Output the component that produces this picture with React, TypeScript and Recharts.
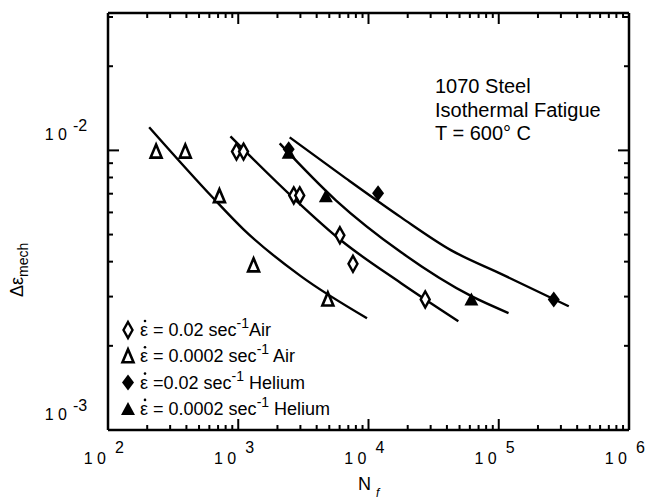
import React from 'react';
import { ComposedChart, Line, Scatter, XAxis, YAxis } from 'recharts';

// cycles to failure vs mechanical strain range, log-log
const xMajor = [1e2, 1e3, 1e4, 1e5, 1e6];
const yMajor = [1e-3, 1e-2];
const minorSteps = [2, 3, 4, 5, 6, 7, 8, 9];
const xDomain = [1e2, 1e6];
const yDomain = [1e-3, 0.031];

const xExp = ['2', '3', '4', '5', '6'];
const yExp = ['-3', '-2'];

// test points
const airFast = [
  { x: 969, y: 0.0099 },
  { x: 1098, y: 0.0099 },
  { x: 2667, y: 0.0069 },
  { x: 2965, y: 0.0069 },
  { x: 6030, y: 0.00497 },
  { x: 7600, y: 0.00393 },
  { x: 27250, y: 0.00293 },
];
const airSlow = [
  { x: 234, y: 0.0099 },
  { x: 392, y: 0.0099 },
  { x: 717, y: 0.00686 },
  { x: 1311, y: 0.00388 },
  { x: 4875, y: 0.00293 },
];
const heliumFast = [
  { x: 2440, y: 0.0101 },
  { x: 11840, y: 0.00702 },
  { x: 264300, y: 0.00293 },
];
const heliumSlow = [
  { x: 2440, y: 0.0098 },
  { x: 4705, y: 0.00685 },
  { x: 61660, y: 0.00293 },
];

// fitted life curves
const fitAirSlow = [
  { x: 207, y: 0.0121 },
  { x: 645, y: 0.00674 },
  { x: 1097, y: 0.00522 },
  { x: 3019, y: 0.00355 },
  { x: 9737, y: 0.00251 },
];
const fitAirFast = [
  { x: 871, y: 0.01122 },
  { x: 2667, y: 0.00674 },
  { x: 6138, y: 0.00477 },
  { x: 17800, y: 0.00335 },
  { x: 48950, y: 0.00245 },
];
const fitHeliumSlow = [
  { x: 2080, y: 0.01059 },
  { x: 5617, y: 0.00663 },
  { x: 17800, y: 0.00432 },
  { x: 61660, y: 0.00301 },
  { x: 118900, y: 0.00262 },
];
const fitHeliumFast = [
  { x: 2483, y: 0.01113 },
  { x: 6709, y: 0.00794 },
  { x: 17800, y: 0.00576 },
  { x: 43240, y: 0.00439 },
  { x: 105000, y: 0.00361 },
  { x: 345000, y: 0.00277 },
];

const legendRows = [
  { marker: 'openDiamond', rate: '= 0.02 sec', gas: 'Air' },
  { marker: 'openTriangle', rate: '= 0.0002 sec', gas: ' Air' },
  { marker: 'filledDiamond', rate: '=0.02 sec', gas: ' Helium' },
  { marker: 'filledTriangle', rate: '= 0.0002 sec', gas: ' Helium' },
];

const FONT = '"Liberation Sans", Arial, Helvetica, sans-serif';

const withMinors = (majors: number[], lo: number, hi: number) => {
  const out: number[] = [];
  majors.forEach((m) => {
    out.push(m);
    minorSteps.forEach((s) => out.push(m * s));
  });
  return out.filter((v) => v >= lo * 0.999 && v <= hi * 1.001);
};
const xTicks = withMinors(xMajor, xDomain[0], xDomain[1]);
const yTicks = withMinors(yMajor, yDomain[0], yDomain[1]);

const isMajor = (v: number) => Math.abs(Math.log10(v) - Math.round(Math.log10(v))) < 1e-6;

// inward tick marks on every side, power-of-ten labels on bottom and left
const AxisTick = (props: any) => {
  const { x, y, payload, side } = props;
  const v = payload.value;
  const major = isMajor(v);
  const len = major ? 11 : 5;
  let line;
  if (side === 'bottom') line = <line x1={x} y1={y} x2={x} y2={y - len} />;
  else if (side === 'top') line = <line x1={x} y1={y} x2={x} y2={y + len} />;
  else if (side === 'left') line = <line x1={x} y1={y} x2={x + len} y2={y} />;
  else line = <line x1={x} y1={y} x2={x - len} y2={y} />;
  let label = null;
  if (major && side === 'bottom') {
    const i = xMajor.findIndex((m) => Math.abs(m - v) / m < 1e-6);
    label = (
      <g fontFamily={FONT} fontSize={16} fill="#000" stroke="none">
        <text x={x - 2} y={y + 34} textAnchor="end">1 0</text>
        <text x={x + 7} y={y + 23} textAnchor="start">{xExp[i]}</text>
      </g>
    );
  }
  if (major && side === 'left') {
    const i = yMajor.findIndex((m) => Math.abs(m - v) / m < 1e-6);
    label = (
      <g fontFamily={FONT} fontSize={16} fill="#000" stroke="none">
        <text x={x - 41} y={y - 10} textAnchor="end">1 0</text>
        <text x={x - 35} y={y - 19} textAnchor="start">{yExp[i]}</text>
      </g>
    );
  }
  return (
    <g stroke="#000" strokeWidth={2}>
      {line}
      {label}
    </g>
  );
};

const Marker = ({ kind, cx, cy }: { kind: string; cx: number; cy: number }) => {
  if (kind === 'openDiamond')
    return (
      <path
        d={`M${cx},${cy - 8} L${cx + 4.5},${cy} L${cx},${cy + 8} L${cx - 4.5},${cy} Z`}
        fill="#fff"
        stroke="#000"
        strokeWidth={2.4}
      />
    );
  if (kind === 'openTriangle')
    return (
      <path
        d={`M${cx},${cy - 7} L${cx + 5.5},${cy + 6} L${cx - 5.5},${cy + 6} Z`}
        fill="#fff"
        stroke="#000"
        strokeWidth={2.6}
        strokeLinejoin="miter"
      />
    );
  if (kind === 'filledDiamond')
    return <path d={`M${cx},${cy - 8} L${cx + 6},${cy} L${cx},${cy + 8} L${cx - 6},${cy} Z`} fill="#000" />;
  return <path d={`M${cx},${cy - 7} L${cx + 7},${cy + 6} L${cx - 7},${cy + 6} Z`} fill="#000" />;
};

const shapeOf = (kind: string) => (p: any) => <Marker kind={kind} cx={p.cx} cy={p.cy} />;

const axisLine = { stroke: '#000', strokeWidth: 2.5 };

export default function App() {
  const W = 645;
  const H = 502;
  return (
    <div style={{ position: 'relative', width: W, height: H, background: '#fff' }}>
      <style>{`body{margin:0}`}</style>
      <ComposedChart width={W} height={H} margin={{ top: 12, right: 15, bottom: 0, left: 0 }}>
        <XAxis
          dataKey="x"
          type="number"
          scale="log"
          domain={xDomain}
          allowDataOverflow
          ticks={xTicks}
          interval={0}
          tickLine={false}
          tickSize={0}
          tickMargin={0}
          height={72}
          axisLine={axisLine}
          tick={<AxisTick side="bottom" />}
        />
        <XAxis
          xAxisId="top"
          dataKey="x"
          orientation="top"
          type="number"
          scale="log"
          domain={xDomain}
          allowDataOverflow
          ticks={xTicks}
          interval={0}
          tickLine={false}
          tickSize={0}
          tickMargin={0}
          height={1}
          axisLine={axisLine}
          tick={<AxisTick side="top" />}
        />
        <YAxis
          type="number"
          scale="log"
          domain={yDomain}
          allowDataOverflow
          ticks={yTicks}
          interval={0}
          tickLine={false}
          tickSize={0}
          tickMargin={0}
          width={108}
          axisLine={axisLine}
          tick={<AxisTick side="left" />}
        />
        <YAxis
          yAxisId="right"
          orientation="right"
          type="number"
          scale="log"
          domain={yDomain}
          allowDataOverflow
          ticks={yTicks}
          interval={0}
          tickLine={false}
          tickSize={0}
          tickMargin={0}
          width={1}
          axisLine={axisLine}
          tick={<AxisTick side="right" />}
        />
        {/* carries the top and right frame axes */}
        <Line
          xAxisId="top"
          yAxisId="right"
          data={fitAirSlow}
          dataKey="y"
          stroke="none"
          dot={false}
          activeDot={false}
          legendType="none"
          isAnimationActive={false}
        />
        {[fitAirSlow, fitAirFast, fitHeliumSlow, fitHeliumFast].map((d, i) => (
          <Line
            key={i}
            data={d}
            dataKey="y"
            type="monotone"
            stroke="#000"
            strokeWidth={2.4}
            dot={false}
            activeDot={false}
            isAnimationActive={false}
          />
        ))}
        <Scatter data={airSlow} dataKey="y" shape={shapeOf('openTriangle')} isAnimationActive={false} />
        <Scatter data={airFast} dataKey="y" shape={shapeOf('openDiamond')} isAnimationActive={false} />
        <Scatter data={heliumFast} dataKey="y" shape={shapeOf('filledDiamond')} isAnimationActive={false} />
        <Scatter data={heliumSlow} dataKey="y" shape={shapeOf('filledTriangle')} isAnimationActive={false} />
      </ComposedChart>

      <svg
        width={W}
        height={H}
        style={{ position: 'absolute', left: 0, top: 0, pointerEvents: 'none' }}
        fontFamily={FONT}
      >
        <g fontSize={20} fill="#000">
          <text x={435} y={93}>1070 Steel</text>
          <text x={435} y={117}>Isothermal Fatigue</text>
          <text x={435} y={140}>T = 600° C</text>
        </g>

        {legendRows.map((r, i) => {
          const base = 336 + i * 26.3;
          return (
            <g key={i} fontSize={18} fill="#000">
              <Marker kind={r.marker} cx={128} cy={base - 6} />
              {/* rate dot over epsilon */}
              <circle cx={145} cy={base - 15} r={1.3} />
              <text x={140} y={base}>
                {'ε '}
                {r.rate}
                <tspan dy={-8} fontSize={14}>-1</tspan>
                <tspan dy={8}>{r.gas}</tspan>
              </text>
            </g>
          );
        })}

        <text x={358} y={490} fontSize={18} fill="#000">
          N<tspan dx={5} dy={7} fontSize={12} fontStyle="italic">f</tspan>
        </text>

        <text transform="translate(23,297) rotate(-90)" fontSize={18} fill="#000">
          Δε<tspan dy={5} fontSize={14}>mech</tspan>
        </text>
      </svg>
    </div>
  );
}
